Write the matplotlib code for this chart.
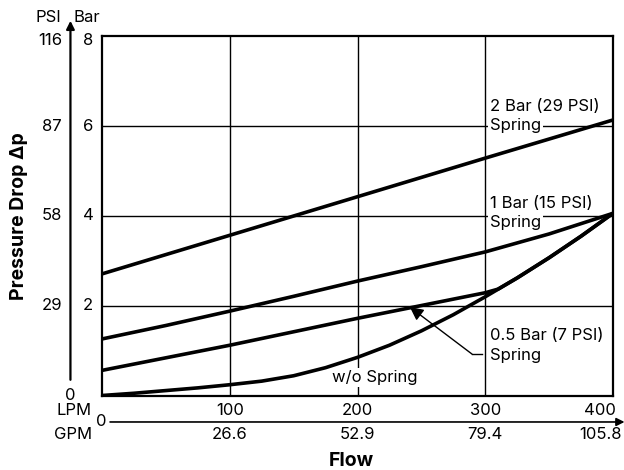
import matplotlib
matplotlib.use("Agg")
from matplotlib import pyplot as plt

plt.rcParams['font.family'] = ['Inter', 'DejaVu Sans']

# flow in LPM, pressure drop in bar
flow_pts = [0, 100, 200, 300, 400]
two_bar = [2.71, 3.57, 4.43, 5.29, 6.14]

one_flow = [0, 50, 100, 150, 200, 250, 300, 350, 400]
one_bar = [1.26, 1.56, 1.88, 2.21, 2.55, 2.87, 3.20, 3.60, 4.06]

half_flow = [0, 100, 200, 300, 310, 325, 350, 375, 400]
half_bar = [0.56, 1.12, 1.72, 2.29, 2.37, 2.62, 3.07, 3.55, 4.06]

wo_flow = [0, 25, 50, 75, 100, 125, 150, 175, 200, 225, 250, 275, 300,
           325, 350, 375, 400]
wo_spring = [0, 0.05, 0.11, 0.17, 0.24, 0.32, 0.44, 0.62, 0.85, 1.12, 1.44,
             1.80, 2.20, 2.62, 3.07, 3.55, 4.06]

lpm_ticks = [100, 200, 300, 400]
gpm_labels = ["26.6", "52.9", "79.4", "105.8"]
bar_ticks = [2, 4, 6, 8]
psi_labels = ["29", "58", "87", "116"]

fs = 12

fig = plt.figure(figsize=(6.24, 4.70), dpi=100)
ax = fig.add_axes([102 / 624, 74.5 / 470, 511 / 624, 359 / 470])
ax.set_xlim(0, 400)
ax.set_ylim(0, 8)
ax.set_xticks([100, 200, 300])
ax.set_yticks([2, 4, 6])
ax.tick_params(length=0, labelbottom=False, labelleft=False)
ax.grid(True, color="black", lw=1.0)
for s in ax.spines.values():
    s.set_linewidth(1.6)

lw = 2.6
ax.plot(flow_pts, two_bar, color="black", lw=lw, zorder=4, solid_capstyle="butt")
ax.plot(one_flow, one_bar, color="black", lw=lw, zorder=4, solid_capstyle="butt")
ax.plot(half_flow, half_bar, color="black", lw=lw, zorder=4, solid_capstyle="butt")
ax.plot(wo_flow, wo_spring, color="black", lw=lw, zorder=4, solid_capstyle="butt")

box = dict(facecolor="white", edgecolor="none", pad=1.5)

# curve labels
ax.text(303.7, 6.33, "2 Bar (29 PSI)", fontsize=fs, va="baseline", bbox=box, zorder=3)
ax.text(303.7, 5.92, "Spring", fontsize=fs, va="baseline", bbox=box, zorder=3)
ax.text(303.7, 4.17, "1 Bar (15 PSI)", fontsize=fs, va="baseline", bbox=box, zorder=3)
ax.text(303.7, 3.76, "Spring", fontsize=fs, va="baseline", bbox=box, zorder=3)
ax.text(303.7, 1.24, "0.5 Bar (7 PSI)", fontsize=fs, va="baseline", bbox=box, zorder=3)
ax.text(303.7, 0.79, "Spring", fontsize=fs, va="baseline", bbox=box, zorder=3)
ax.text(179.8, 0.31, "w/o Spring", fontsize=fs, va="baseline", bbox=box, zorder=3)

# pointer for 0.5 bar curve
ax.plot([297.5, 289.6], [0.924, 0.924], color="black", lw=1.0, zorder=5)
ax.annotate("", xy=(241, 1.97), xytext=(289.6, 0.924),
            arrowprops=dict(arrowstyle="-|>", color="black", lw=1.0,
                            mutation_scale=20, shrinkA=0, shrinkB=0),
            zorder=5)

# left pressure axis
ax.annotate("", xy=(-24.7, 8.35), xytext=(-24.7, 0.35),
            arrowprops=dict(arrowstyle="-|>", color="black", lw=1.6,
                            mutation_scale=12, shrinkA=0, shrinkB=0),
            annotation_clip=False)
for b, p in zip(bar_ticks, psi_labels):
    yb = b - 0.1 if b == 8 else b
    ax.text(-31.3, yb, p, fontsize=fs, ha="right", va="center", clip_on=False)
    ax.text(-11, yb, str(b), fontsize=fs, ha="center", va="center", clip_on=False)
ax.text(-24.7, 0, "0", fontsize=fs, ha="center", va="center", clip_on=False)
ax.text(-42.3, 8.43, "PSI", fontsize=fs, ha="center", va="center", clip_on=False)
ax.text(-11.7, 8.43, "Bar", fontsize=fs, ha="center", va="center", clip_on=False)
ax.text(-65, 4.0, "Pressure Drop \u0394p", fontsize=14, fontweight="bold",
        rotation=90, ha="center", va="center", clip_on=False)

# bottom flow axis
ax.annotate("", xy=(409, -0.59), xytext=(6.3, -0.59),
            arrowprops=dict(arrowstyle="-|>", color="black", lw=1.2,
                            mutation_scale=12, shrinkA=0, shrinkB=0),
            annotation_clip=False)
ax.text(-0.8, -0.59, "0", fontsize=fs, ha="center", va="center", clip_on=False)
ax.text(-7.8, -0.345, "LPM", fontsize=fs, ha="right", va="center", clip_on=False)
ax.text(-7.8, -0.858, "GPM", fontsize=fs, ha="right", va="center", clip_on=False)
for x, g in zip(lpm_ticks, gpm_labels):
    if x == 400:
        ax.text(402.4, -0.345, str(x), fontsize=fs, ha="right", va="center", clip_on=False)
        ax.text(407, -0.87, g, fontsize=fs, ha="right", va="center", clip_on=False)
    else:
        ax.text(x, -0.345, str(x), fontsize=fs, ha="center", va="center", clip_on=False)
        ax.text(x, -0.87, g, fontsize=fs, ha="center", va="center", clip_on=False)
ax.text(195, -1.46, "Flow", fontsize=14, fontweight="bold",
        ha="center", va="center", clip_on=False)

fig.savefig("out.png", dpi=100)
